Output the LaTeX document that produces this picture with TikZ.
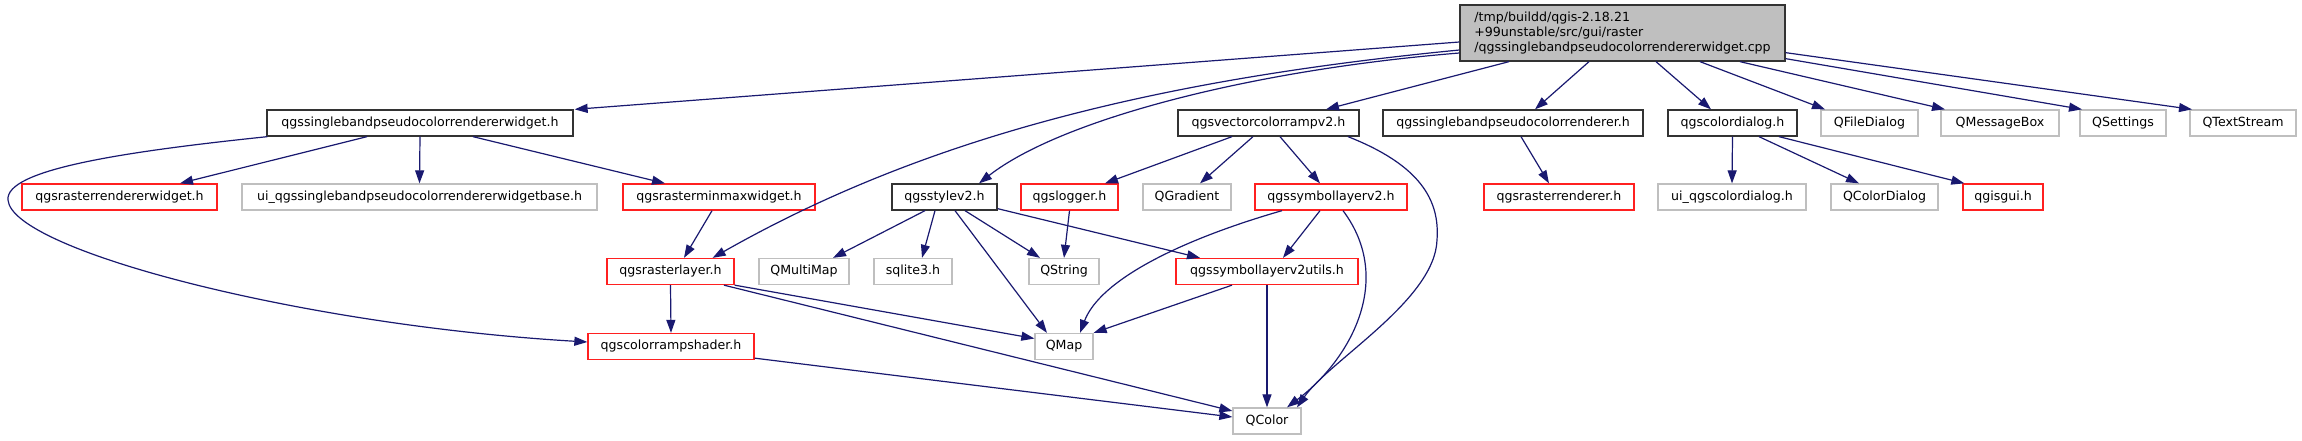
\documentclass[tikz,border=0pt]{standalone}
\usepackage{fontspec}
\setmainfont{DejaVu Sans}
\usetikzlibrary{arrows.meta,calc}
\definecolor{edgeblue}{HTML}{191970}
\definecolor{lgrey}{HTML}{BFBFBF}
\definecolor{rootfill}{HTML}{BFBFBF}
\definecolor{redborder}{HTML}{FF2020}
\tikzset{
  box/.style={draw, line width=1.3pt, inner sep=0pt, minimum height=26pt, fill=white,
    font=\fontsize{12.6}{15}\selectfont, anchor=center},
  docbox/.style={box, draw=black!80},
  redbox/.style={box, draw=redborder},
  greybox/.style={box, draw=lgrey},
  rootbox/.style={box, draw=black!80, fill=rootfill, minimum height=56pt, align=left},
  e/.style={draw=edgeblue, line width=1.2pt, -{Triangle[length=13pt,width=9pt]}}
}
\begin{document}
\begin{tikzpicture}[x=1pt,y=-1pt]
\fill[white] (0,0) rectangle (2302,440);
\useasboundingbox (0,0) rectangle (2302,440);

% root
\node[rootbox, minimum width=325pt] (root) at (1622.5,33) {/tmp/buildd/qgis-2.18.21\\+99unstable/src/gui/raster\\/qgssinglebandpseudocolorrendererwidget.cpp};

% row 2
\node[docbox, minimum width=306pt] (sbw) at (420,123) {qgssinglebandpseudocolorrendererwidget.h};
\node[docbox, minimum width=181pt] (vcr) at (1268.5,123) {qgsvectorcolorrampv2.h};
\node[docbox, minimum width=260pt] (sbr) at (1513,123) {qgssinglebandpseudocolorrenderer.h};
\node[docbox, minimum width=129pt] (cdlg) at (1732.5,123) {qgscolordialog.h};
\node[greybox, minimum width=97pt] (qfd) at (1869.5,123) {QFileDialog};
\node[greybox, minimum width=118pt] (qmb) at (2000,123) {QMessageBox};
\node[greybox, minimum width=86pt] (qset) at (2123,123) {QSettings};
\node[greybox, minimum width=106pt] (qts) at (2243,123) {QTextStream};

% row 3
\node[redbox, minimum width=195pt] (rrw) at (119.5,197) {qgsrasterrendererwidget.h};
\node[greybox, minimum width=355pt] (uib) at (419.5,197) {ui\_qgssinglebandpseudocolorrendererwidgetbase.h};
\node[redbox, minimum width=192pt] (mmw) at (719,197) {qgsrasterminmaxwidget.h};
\node[docbox, minimum width=105pt] (sty) at (944.5,197) {qgsstylev2.h};
\node[redbox, minimum width=97pt] (log) at (1069.5,197) {qgslogger.h};
\node[greybox, minimum width=88pt] (qgr) at (1187,197) {QGradient};
\node[redbox, minimum width=152pt] (sym) at (1331,197) {qgssymbollayerv2.h};
\node[redbox, minimum width=150pt] (rr) at (1559,197) {qgsrasterrenderer.h};
\node[greybox, minimum width=148pt] (uicd) at (1732,197) {ui\_qgscolordialog.h};
\node[greybox, minimum width=107pt] (qcd) at (1884.5,197) {QColorDialog};
\node[redbox, minimum width=80pt] (gui) at (2003,197) {qgisgui.h};

% row 4
\node[redbox, minimum width=127pt] (rl) at (670.5,271.5) {qgsrasterlayer.h};
\node[greybox, minimum width=90pt] (qmm) at (804,271.5) {QMultiMap};
\node[greybox, minimum width=78pt] (sql) at (913,271.5) {sqlite3.h};
\node[greybox, minimum width=70pt] (qstr) at (1064,271.5) {QString};
\node[redbox, minimum width=182pt] (utl) at (1267,271.5) {qgssymbollayerv2utils.h};

% row 5
\node[redbox, minimum width=166pt] (crs) at (671,346.5) {qgscolorrampshader.h};
\node[greybox, minimum width=58pt] (qmap) at (1064,346.5) {QMap};

% row 6
\node[greybox, minimum width=68pt] (qcol) at (1267,421) {QColor};

% edges from root
\draw[e] ([yshift=-9pt]root.west) -- ([xshift=1pt]sbw.north east);
\draw[e] ([yshift=-17pt]root.west) .. controls (1150,80) and (920,140) .. ([xshift=-22pt]rl.north east);
\draw[e] ([yshift=-20pt]root.west) .. controls (1250,70) and (1060,120) .. ([xshift=34.5pt]sty.north);
\draw[e] ([xshift=-113.5pt]root.south) -- ([xshift=57.5pt]vcr.north);
\draw[e] ([xshift=-33.5pt]root.south) -- ([xshift=22pt]sbr.north);
\draw[e] ([xshift=33.5pt]root.south) -- ([xshift=-21.5pt]cdlg.north);
\draw[e] ([xshift=77.5pt]root.south) -- ([xshift=-44.5pt]qfd.north);
\draw[e] ([xshift=117.5pt]root.south) -- ([xshift=-55pt]qmb.north);
\draw[e] ([yshift=3pt]root.south east) -- ([xshift=-41pt]qset.north);
\draw[e] ([yshift=9pt]root.south east) -- ([xshift=-51pt]qts.north);

% edges from sbw
\draw[e] ([xshift=-53pt]sbw.south) -- ([xshift=60.5pt]rrw.north);
\draw[e] (sbw.south) -- (uib.north);
\draw[e] ([xshift=53pt]sbw.south) -- ([xshift=-54pt]mmw.north);
\draw[e] ([xshift=1pt]sbw.south west) .. controls (120,152) and (5,170) .. (8,200)
  .. controls (12,250) and (300,325) .. ([yshift=4.5pt]crs.west);

% minmax
\draw[e] ([xshift=-7pt]mmw.south) -- ([xshift=13.5pt]rl.north);

% raster layer
\draw[e] (rl.south) -- (crs.north);
\draw[e] (rl.south east) -- ([yshift=8pt]qmap.west);
\draw[e] ([xshift=53.5pt]rl.south) -- ([yshift=10pt]qcol.west);

% colorrampshader
\draw[e] ([yshift=2pt]crs.south east) -- ([yshift=4pt]qcol.west);

% stylev2
\draw[e] ([xshift=-19.5pt]sty.south) -- ([xshift=29pt]qmm.north);
\draw[e] ([xshift=-9.5pt]sty.south) -- ([xshift=9pt]sql.north);
\draw[e] ([xshift=10.5pt]sty.south) -- ([xshift=-17pt]qmap.north);
\draw[e] ([xshift=20.5pt]sty.south) -- ([xshift=-24pt]qstr.north);
\draw[e] ([yshift=2pt]sty.south east) -- ([xshift=-67pt]utl.north);

% logger
\draw[e] (log.south) -- (qstr.north);

% vector color ramp
\draw[e] ([xshift=-36.5pt]vcr.south) -- ([xshift=35.5pt]log.north);
\draw[e] ([xshift=-15.5pt]vcr.south) -- ([xshift=13pt]qgr.north);
\draw[e] ([xshift=11.5pt]vcr.south) -- ([xshift=-11pt]sym.north);
\draw[e] ([xshift=79.5pt]vcr.south) .. controls (1420,165) and (1440,200) .. (1437,240)
  .. controls (1435,300) and (1330,360) .. ([xshift=30pt]qcol.north);

% symbollayerv2
\draw[e] ([xshift=-11pt]sym.south) -- ([xshift=16pt]utl.north);
\draw[e] ([xshift=-49pt]sym.south) .. controls (1180,240) and (1100,280) .. ([xshift=16pt]qmap.north);
\draw[e] ([xshift=12pt]sym.south) .. controls (1395,280) and (1350,360) .. ([xshift=20pt]qcol.north);

% utils
\draw[e] ([xshift=-35pt]utl.south) -- (qmap.north east);
\draw[e] (utl.south) -- (qcol.north);

% singleband renderer
\draw[e] ([xshift=8pt]sbr.south) -- ([xshift=-10pt]rr.north);

% color dialog
\draw[e] (cdlg.south) -- (uicd.north);
\draw[e] ([xshift=26.5pt]cdlg.south) -- ([xshift=-25.5pt]qcd.north);
\draw[e] ([xshift=46.5pt]cdlg.south) -- ([xshift=2pt]gui.north west);
\end{tikzpicture}
\end{document}
